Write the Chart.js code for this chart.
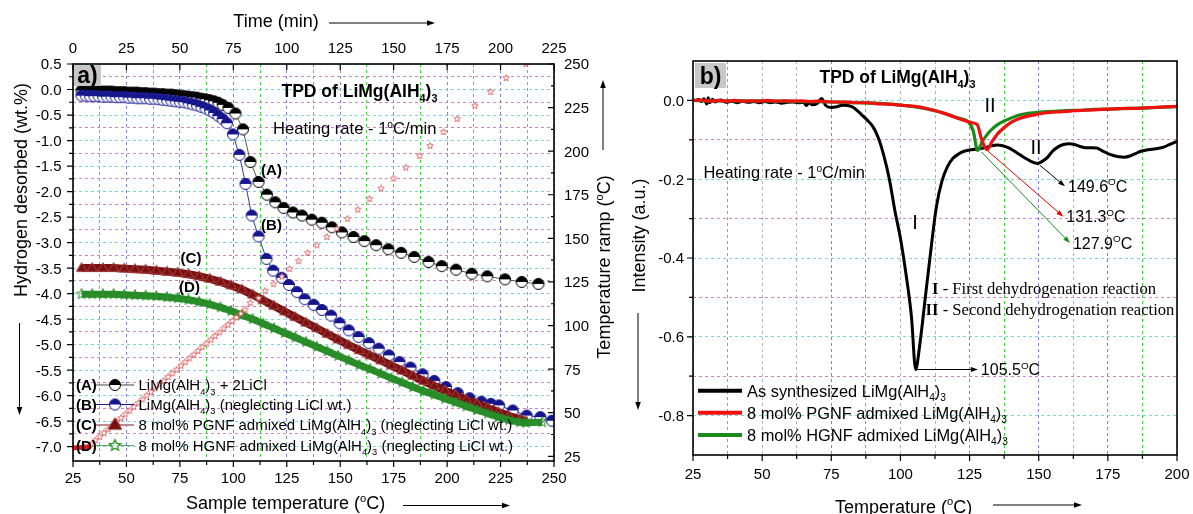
<!DOCTYPE html>
<html>
<head>
<meta charset="utf-8">
<script src="https://cdn.jsdelivr.net/npm/chart.js@4.4.1/dist/chart.umd.min.js"></script>
<style>
  html, body { margin: 0; padding: 0; background: #fff; }
  #wrap { position: relative; width: 1193px; height: 514px; overflow: hidden; background: #fff; }
  canvas { position: absolute; top: 0; }
</style>
</head>
<body>
<div id="wrap">
  <canvas id="tpdA" width="620" height="514" style="left:0"></canvas>
  <canvas id="tpdB" width="573" height="514" style="left:620px"></canvas>
</div>
<script>
// ===== PANEL a) : hydrogen desorbed vs sample temperature =====
const tempTicks = [25, 50, 75, 100, 125, 150, 175, 200, 225, 250];
const timeTicks = [0, 25, 50, 75, 100, 125, 150, 175, 200, 225];
const wtTicks = [0.5, 0, -0.5, -1, -1.5, -2, -2.5, -3, -3.5, -4, -4.5, -5, -5.5, -6, -6.5, -7];
const rampTicks = [25, 50, 75, 100, 125, 150, 175, 200, 225, 250];

const tagsA = ['(A)', '(B)', '(C)', '(D)'];
const namesA = [
  'LiMg(AlH_4)_3 + 2LiCl',
  'LiMg(AlH_4)_3 (neglecting LiCl wt.)',
  '8 mol% PGNF admixed LiMg(AlH_4)_3 (neglecting LiCl wt.)',
  '8 mol% HGNF admixed LiMg(AlH_4)_3 (neglecting LiCl wt.)'
];

// (A) LiMg(AlH4)3 + 2LiCl
const aTemp = [29, 31, 33, 35, 37, 39, 41, 43, 45, 47, 49, 51, 53, 55, 57, 59, 61, 63, 65, 67, 69, 71, 73, 75, 77, 79, 81, 83, 85, 87, 89, 91, 93, 95,
  97.7, 101, 104.5, 108, 111.8, 115.7, 119.6, 123.5, 127.9, 132.1, 136.7, 141.4, 146.1, 150.8, 156.2, 161.3, 166.8, 172.5, 178.5, 184.6, 191.3, 197.5, 204.2, 211.5, 218.8, 227.1, 234.9, 242.7];
const aWt = [-0.02, -0.02, -0.03, -0.03, -0.03, -0.04, -0.04, -0.04, -0.05, -0.05, -0.05, -0.06, -0.06, -0.06, -0.07, -0.07, -0.08, -0.08, -0.09, -0.09, -0.10, -0.10, -0.11, -0.12, -0.13, -0.14, -0.15, -0.16, -0.18, -0.19, -0.21, -0.23, -0.26, -0.30,
  -0.36, -0.47, -0.78, -1.42, -1.81, -2.06, -2.21, -2.32, -2.41, -2.47, -2.55, -2.61, -2.70, -2.80, -2.89, -2.97, -3.05, -3.13, -3.20, -3.28, -3.38, -3.46, -3.53, -3.61, -3.66, -3.72, -3.77, -3.81];

// (B) LiMg(AlH4)3, LiCl weight neglected
const bTemp = [29, 31, 33, 35, 37, 39, 41, 43, 45, 47, 49, 51, 53, 55, 57, 59, 61, 63, 65, 67, 69, 71, 73, 75, 77, 79, 81, 83, 85, 87, 89, 91, 93, 95, 97,
  99.8, 102.8, 105.7, 108.6, 111.8, 115.5, 118.6, 122.6, 126, 129.8, 133.4, 137.6, 141.4, 145.7, 149.7, 154, 158.6, 163.4, 168, 172.8, 177.7, 182.9, 188.5, 194, 199.5, 205, 210.5, 216, 220.5, 224.3, 230.7, 237.2, 243.6, 249];
const bWt = [-0.12, -0.12, -0.13, -0.13, -0.13, -0.14, -0.14, -0.14, -0.15, -0.15, -0.15, -0.16, -0.16, -0.17, -0.17, -0.17, -0.18, -0.18, -0.19, -0.20, -0.21, -0.22, -0.23, -0.24, -0.25, -0.27, -0.29, -0.31, -0.34, -0.37, -0.41, -0.46, -0.52, -0.58, -0.66,
  -0.88, -1.28, -1.85, -2.47, -2.88, -3.32, -3.55, -3.69, -3.83, -3.97, -4.11, -4.22, -4.32, -4.43, -4.58, -4.72, -4.85, -4.97, -5.08, -5.21, -5.34, -5.45, -5.58, -5.71, -5.83, -5.95, -6.05, -6.12, -6.16, -6.19, -6.29, -6.39, -6.42, -6.49];

// (C) 8 mol% PGNF
const cTemp = [29, 34, 39, 44, 49, 54, 59, 64, 69, 74, 79, 84, 89, 94, 99, 104, 109, 114, 119, 124, 129, 134, 139, 144, 149, 154, 159, 164, 169, 174, 179, 184, 189, 194, 199, 204, 209, 214, 219, 224, 229, 234, 237];
const cWt = [-3.50, -3.50, -3.50, -3.50, -3.51, -3.52, -3.53, -3.55, -3.57, -3.59, -3.62, -3.66, -3.71, -3.77, -3.84, -3.92, -4.02, -4.13, -4.24, -4.35, -4.46, -4.57, -4.68, -4.79, -4.90, -5.01, -5.11, -5.21, -5.31, -5.41, -5.51, -5.61, -5.71, -5.81, -5.90, -5.99, -6.08, -6.16, -6.24, -6.32, -6.40, -6.46, -6.50];

// (D) 8 mol% HGNF
const dTemp = [29, 34, 39, 44, 49, 54, 59, 64, 69, 74, 79, 84, 89, 94, 99, 104, 109, 114, 119, 124, 129, 134, 139, 144, 149, 154, 159, 164, 169, 174, 179, 184, 189, 194, 199, 204, 209, 214, 219, 224, 229, 234, 237, 244.5];
const dWt = [-4.01, -4.01, -4.01, -4.01, -4.02, -4.03, -4.04, -4.05, -4.07, -4.09, -4.12, -4.16, -4.21, -4.27, -4.34, -4.42, -4.50, -4.59, -4.68, -4.77, -4.86, -4.95, -5.04, -5.13, -5.22, -5.31, -5.40, -5.48, -5.57, -5.66, -5.74, -5.83, -5.91, -5.98, -6.06, -6.13, -6.21, -6.28, -6.35, -6.42, -6.48, -6.52, -6.53, -6.52];

// temperature ramp (right axis)
const rampStartTemp = [25, 26.5, 28, 29.5, 31, 32.5];
const rampStartVal = [29.8, 29.9, 30.0, 30.1, 30.3, 30.5];
const rampTemp = [33.5, 35.5, 37.5, 39.5, 41.5, 43.5, 45.5, 47.5, 49.5, 51.5, 53.5, 55.5, 57.5, 59.5, 61.5, 63.5, 65.5, 67.5, 69.5, 71.5, 73.5, 75.5, 77.5, 79.5, 81.5, 83.5, 85.5, 87.5, 89.5, 91.5, 93.5, 95.5, 97.5, 99.5, 101.5, 103.5, 105.6,
  107.9, 111.8, 114.9, 118.8, 122.7, 126.3, 130.5, 134.7, 139.1, 143.7, 148.4, 153.4, 158.2, 163.7, 169.1, 174.9, 180.7, 187.1, 192, 198.3, 204.7, 213, 220.3, 227.6, 236.8];
const rampVal = [31.9, 34.1, 36.2, 38.4, 40.5, 42.6, 44.8, 46.9, 49.1, 51.2, 53.3, 55.5, 57.6, 59.8, 61.9, 64.0, 66.2, 68.3, 70.5, 72.6, 74.7, 76.9, 79.0, 81.2, 83.3, 85.4, 87.6, 89.7, 91.9, 94.0, 96.1, 98.3, 100.4, 102.6, 104.7, 106.8, 109.1,
  112.9, 115.7, 119.9, 123.7, 128.1, 132.4, 136.9, 141.7, 146.0, 150.8, 155.5, 161.2, 166.5, 172.6, 178.6, 184.3, 190.6, 197.2, 203, 211, 218.5, 226, 234, 242, 250];

// ===== PANEL b) : TPD intensity vs temperature =====
const tempTicksB = [25, 50, 75, 100, 125, 150, 175, 200];
const intTicks = [0, -0.2, -0.4, -0.6, -0.8];
const namesB = ['As synthesized LiMg(AlH_4)_3', '8 mol% PGNF admixed LiMg(AlH_4)_3', '8 mol% HGNF admixed LiMg(AlH_4)_3'];

const synTemp = [26, 27, 28, 29, 30, 30.5, 31, 32, 33, 35, 37, 39, 41, 43, 45, 47, 49, 51, 53, 55, 57, 59, 61, 63, 65, 66, 67, 68, 70, 71.5, 73, 75, 77, 79, 81,
  83, 85, 86.5, 88, 90, 92, 94, 96, 98, 100, 102, 104, 105.5, 107, 109, 111, 113, 115, 117, 119, 121, 123, 125, 127, 129, 131, 133, 135, 137, 139,
  141, 143, 145, 147, 149.6, 151, 153, 155, 157, 159, 161, 163, 165, 167, 169, 171, 173, 175, 177, 179, 181, 183, 185, 187, 189, 191, 193, 195, 197, 200];
const synInt = [0.000, 0.002, -0.003, 0.004, -0.009, 0.007, -0.006, 0.003, -0.004, 0.001, -0.005, -0.002, -0.006, -0.002, -0.005, -0.003, -0.006, -0.003, -0.006, -0.004,
  -0.007, -0.005, -0.004, -0.006, -0.005, -0.013, -0.005, -0.011, -0.007, 0.005, -0.013, -0.018, -0.016, -0.012, -0.013,
  -0.018, -0.030, -0.040, -0.050, -0.066, -0.095, -0.140, -0.200, -0.280, -0.350, -0.440, -0.550, -0.683, -0.620, -0.500,
  -0.380, -0.270, -0.205, -0.168, -0.147, -0.136, -0.129, -0.126, -0.124, -0.122, -0.119, -0.115, -0.113, -0.115, -0.120,
  -0.128, -0.137, -0.146, -0.154, -0.160, -0.156, -0.146, -0.129, -0.118, -0.112, -0.110, -0.112, -0.117, -0.120, -0.120,
  -0.121, -0.128, -0.135, -0.140, -0.143, -0.144, -0.141, -0.135, -0.129, -0.126, -0.124, -0.122, -0.119, -0.113, -0.104];

const pgnfTemp = [25, 28, 31, 34, 37, 40, 43, 46, 49, 52, 55, 58, 61, 64, 67, 70, 73, 76, 79, 82, 85, 88, 91, 94, 97, 100, 103, 106, 109, 112, 115, 118, 121, 124,
  126, 127.8, 129.3, 131.3, 133, 135, 137, 140, 143, 146, 149, 152, 155, 158, 161, 164, 167, 170, 173, 176, 179, 182, 185, 188, 191, 194, 197, 200];
const pgnfInt = [0.000, 0.001, -0.002, 0.000, -0.002, 0.000, -0.002, -0.001, -0.002, 0.000, -0.002, -0.001, -0.002, -0.001, -0.003, -0.002, -0.003, -0.004, -0.004, -0.005,
  -0.006, -0.006, -0.008, -0.009, -0.010, -0.012, -0.014, -0.016, -0.020, -0.025, -0.031, -0.038, -0.046, -0.053,
  -0.057, -0.062, -0.098, -0.125, -0.106, -0.086, -0.072, -0.056, -0.046, -0.040, -0.036, -0.032, -0.030, -0.029, -0.027, -0.026, -0.025, -0.024, -0.023, -0.022,
  -0.021, -0.020, -0.020, -0.019, -0.018, -0.017, -0.016, -0.015];

const hgnfTemp = [25, 30, 35, 40, 45, 50, 55, 60, 65, 70, 75, 80, 85, 90, 95, 100, 105, 110,
  114, 118, 121, 124.5, 126.3, 127.9, 129.5, 131, 132.5, 135, 137.5, 140, 143, 146, 150, 155, 160, 165, 170, 175, 180, 185, 190, 195, 200];
const hgnfInt = [0.000, -0.001, -0.001, -0.001, -0.001, -0.001, -0.002, -0.002, -0.003, -0.003, -0.004, -0.005, -0.006, -0.007, -0.009, -0.012, -0.016, -0.022,
  -0.029, -0.038, -0.045, -0.054, -0.077, -0.127, -0.106, -0.090, -0.077, -0.062, -0.052, -0.045, -0.037, -0.033, -0.030, -0.028, -0.026, -0.025, -0.023, -0.022,
  -0.021, -0.020, -0.019, -0.017, -0.016];

// peak markers: arrow from (T, I) to (T, I)
const peakTemps = [105.5, 149.6, 131.3, 127.9];
const peakFrom = [[105.4, -0.683], [150.5, -0.165], [131.7, -0.129], [129.3, -0.131]];
const peakTo = [[128, -0.683], [159.5, -0.218], [158.9, -0.295], [161.3, -0.362]];
const peakColors = ['#000', '#000', '#e00000', '#1a8a1a'];

// ===== HELPERS =====
const SANS = '"Liberation Sans", Arial, Helvetica, sans-serif';
const SERIF = '"Liberation Serif", "Times New Roman", serif';
const GRID = { cyan: '#6cdcdc', magenta: '#de78de', green: '#4cd44c', blue: '#8484cc', gray: '#b4b4b4' };

function pairs(xs, ys) {
  return xs.map((x, i) => ({ x: x, y: ys[i] }));
}

function midpoints(arr) {
  const out = [];
  for (let i = 0; i < arr.length - 1; i++) out.push((arr[i] + arr[i + 1]) / 2);
  return out;
}

function tickList(majors) {
  return majors.concat(midpoints(majors)).sort((a, b) => a - b).map(v => ({ value: v }));
}

// text with _x subscripts and ^x superscripts, cy = visual middle
function rich(ctx, str, x, cy, size, opt) {
  opt = opt || {};
  const fam = opt.family || SANS;
  const wt = opt.bold ? 'bold ' : '';
  const parts = [];
  for (let i = 0; i < str.length; i++) {
    const ch = str[i];
    if ((ch === '_' || ch === '^') && i + 1 < str.length) {
      parts.push({ t: str[i + 1], k: ch });
      i++;
    } else if (parts.length && !parts[parts.length - 1].k) {
      parts[parts.length - 1].t += ch;
    } else {
      parts.push({ t: ch, k: null });
    }
  }
  let total = 0;
  parts.forEach(p => {
    p.size = p.k ? size * 0.62 : size;
    ctx.font = wt + p.size + 'px ' + fam;
    p.w = ctx.measureText(p.t).width;
    total += p.w;
  });
  let x0 = x;
  if (opt.align === 'center') x0 = x - total / 2;
  if (opt.align === 'right') x0 = x - total;
  const base = cy + size * 0.36;
  ctx.textAlign = 'left';
  ctx.textBaseline = 'alphabetic';
  ctx.fillStyle = opt.color || '#000';
  parts.forEach(p => {
    ctx.font = wt + p.size + 'px ' + fam;
    let dy = 0;
    if (p.k === '_') dy = size * 0.28;
    if (p.k === '^') dy = -size * 0.42;
    ctx.fillText(p.t, x0, base + dy);
    x0 += p.w;
  });
  return total;
}

function richRot(ctx, str, cx, cy, size) {
  ctx.save();
  ctx.translate(cx, cy);
  ctx.rotate(-Math.PI / 2);
  rich(ctx, str, 0, 0, size, { align: 'center' });
  ctx.restore();
}

function arrow(ctx, x1, y1, x2, y2, color, head) {
  head = head || 7;
  const ang = Math.atan2(y2 - y1, x2 - x1);
  const c = Math.cos(ang), s = Math.sin(ang);
  ctx.save();
  ctx.strokeStyle = color;
  ctx.fillStyle = color;
  ctx.lineWidth = 1;
  ctx.beginPath();
  ctx.moveTo(x1, y1);
  ctx.lineTo(x2 - c * head * 0.8, y2 - s * head * 0.8);
  ctx.stroke();
  ctx.beginPath();
  ctx.moveTo(x2, y2);
  ctx.lineTo(x2 - head * c + head * 0.35 * s, y2 - head * s - head * 0.35 * c);
  ctx.lineTo(x2 - head * c - head * 0.35 * s, y2 - head * s + head * 0.35 * c);
  ctx.closePath();
  ctx.fill();
  ctx.restore();
}

function tickMarks(ctx, a, scale, values, len, side, dir) {
  ctx.beginPath();
  values.forEach(v => {
    const p = scale.getPixelForValue(v);
    if (side === 'bottom') { ctx.moveTo(p, a.bottom); ctx.lineTo(p, a.bottom + dir * len); }
    if (side === 'top') { ctx.moveTo(p, a.top); ctx.lineTo(p, a.top - dir * len); }
    if (side === 'left') { ctx.moveTo(a.left, p); ctx.lineTo(a.left - dir * len, p); }
    if (side === 'right') { ctx.moveTo(a.right, p); ctx.lineTo(a.right + dir * len, p); }
  });
  ctx.stroke();
}

// point symbol images
function halfCircle(fill, r) {
  const s = Math.ceil(r * 2 + 3);
  const c = document.createElement('canvas');
  c.width = c.height = s;
  const g = c.getContext('2d');
  const m = s / 2;
  g.beginPath(); g.arc(m, m, r, 0, Math.PI * 2); g.fillStyle = '#fff'; g.fill();
  g.beginPath(); g.arc(m, m, r, Math.PI, 0); g.closePath(); g.fillStyle = fill; g.fill();
  g.beginPath(); g.arc(m, m, r, 0, Math.PI * 2); g.strokeStyle = fill; g.lineWidth = 1; g.stroke();
  return c;
}

function starImage(outer, stroke, fill, lw) {
  const s = Math.ceil(outer * 2 + 3);
  const c = document.createElement('canvas');
  c.width = c.height = s;
  const g = c.getContext('2d');
  const m = s / 2;
  g.beginPath();
  for (let i = 0; i < 10; i++) {
    const r = i % 2 ? outer * 0.45 : outer;
    const a = -Math.PI / 2 + i * Math.PI / 5;
    g.lineTo(m + r * Math.cos(a), m + r * Math.sin(a));
  }
  g.closePath();
  if (fill) { g.fillStyle = fill; g.fill(); }
  g.strokeStyle = stroke; g.lineWidth = lw; g.stroke();
  return c;
}

function triImage(r, fill, stroke) {
  const s = Math.ceil(r * 2 + 3);
  const c = document.createElement('canvas');
  c.width = c.height = s;
  const g = c.getContext('2d');
  const m = s / 2;
  g.beginPath();
  g.moveTo(m, m - r);
  g.lineTo(m + r * 0.95, m + r * 0.6);
  g.lineTo(m - r * 0.95, m + r * 0.6);
  g.closePath();
  g.fillStyle = fill; g.fill();
  g.strokeStyle = stroke; g.lineWidth = 1; g.stroke();
  return c;
}

const symA = halfCircle('#000', 5.5);
const symB = halfCircle('#14148c', 5.5);
const symC = triImage(5.5, '#7a1010', '#a84848');
const symD = starImage(5.5, '#1e8a1e', null, 1);
const symRamp = starImage(3.4, '#d84a4a', '#fff', 0.8);
const symLegendD = starImage(6, '#1e8a1e', '#fff', 1.2);
const symLegendC = triImage(7, '#7a1010', '#7a1010');

// ===== 1. PANEL a) =====
const decorA = {
  id: 'decorA',
  afterDatasetsDraw(chart) {
    const { ctx, chartArea: a, scales } = chart;
    ctx.save();
    ctx.strokeStyle = '#000';
    ctx.lineWidth = 1.6;
    ctx.strokeRect(a.left, a.top, a.right - a.left, a.bottom - a.top);
    ctx.lineWidth = 1.2;
    tickMarks(ctx, a, scales.x, tempTicks, 6, 'bottom', 1);
    tickMarks(ctx, a, scales.x, midpoints(tempTicks), 4, 'bottom', 1);
    tickMarks(ctx, a, scales.xt, timeTicks, 6, 'top', -1);
    tickMarks(ctx, a, scales.y, wtTicks, 6, 'left', 1);
    tickMarks(ctx, a, scales.y, midpoints(wtTicks), 4, 'left', 1);
    tickMarks(ctx, a, scales.yR, rampTicks, 6, 'right', -1);
    tickMarks(ctx, a, scales.yR, midpoints(rampTicks), 3, 'right', -1);
    ctx.restore();
  },
  afterDraw(chart) {
    const { ctx, chartArea: a, scales } = chart;
    ctx.save();
    // tick labels
    tempTicks.forEach(v => rich(ctx, String(v), scales.x.getPixelForValue(v), 478, 15, { align: 'center' }));
    timeTicks.forEach(v => rich(ctx, String(v), scales.xt.getPixelForValue(v), 48, 15, { align: 'center' }));
    wtTicks.forEach(v => rich(ctx, v.toFixed(1), 61.5, scales.y.getPixelForValue(v), 15, { align: 'right' }));
    rampTicks.forEach(v => rich(ctx, String(v), 564, scales.yR.getPixelForValue(v), 15));

    // axis titles with arrows
    rich(ctx, 'Time (min)', 276, 21, 18, { align: 'center' });
    arrow(ctx, 329, 23, 435, 23, '#000', 8);
    rich(ctx, 'Sample temperature (^oC)', 186, 503, 18);
    arrow(ctx, 403, 505.5, 510, 505.5, '#000', 8);
    richRot(ctx, 'Hydrogen desorbed (wt.%)', 21, 190, 18);
    arrow(ctx, 19.5, 323, 19.5, 415, '#000', 8);
    richRot(ctx, 'Temperature ramp (^oC)', 604, 267, 18);
    arrow(ctx, 603, 150, 603, 80, '#000', 8);

    // panel tag and captions
    ctx.fillStyle = '#c8c8c8';
    ctx.fillRect(a.left + 1, 65, 27, 21);
    rich(ctx, 'a)', a.left + 14.5, 75, 23, { bold: true, align: 'center' });
    rich(ctx, 'TPD of LiMg(AlH_4)_3', 281.5, 91, 17.5, { bold: true });
    rich(ctx, 'Heating rate - 1^oC/min', 273, 128.5, 16.6);
    rich(ctx, '(A)', 271.5, 170, 15, { bold: true, align: 'center' });
    rich(ctx, '(B)', 271.5, 225, 15, { bold: true, align: 'center' });
    rich(ctx, '(C)', 191, 258, 15, { bold: true, align: 'center' });
    rich(ctx, '(D)', 189.5, 287, 15, { bold: true, align: 'center' });

    // legend
    const rowY = [385, 404.5, 425, 445.5];
    const lineCols = ['#444', '#14148c', '#c08a8a', '#5aaa5a'];
    const syms = [symA, symB, symLegendC, symLegendD];
    rowY.forEach((y, i) => {
      rich(ctx, tagsA[i], 76, y, 15, { bold: true });
      ctx.strokeStyle = lineCols[i];
      ctx.lineWidth = i === 2 ? 2 : 1;
      ctx.beginPath(); ctx.moveTo(96, y); ctx.lineTo(134, y); ctx.stroke();
      ctx.drawImage(syms[i], 115 - syms[i].width / 2, y - syms[i].height / 2);
      rich(ctx, namesA[i], 138.5, y, 15);
    });
    ctx.restore();
  }
};

new Chart(document.getElementById('tpdA'), {
  type: 'scatter',
  data: {
    datasets: [
      { label: 'A', data: pairs(aTemp, aWt), xAxisID: 'x', yAxisID: 'y', showLine: true, borderColor: '#555', borderWidth: 1,
        pointStyle: symA, pointRadius: 5.5, order: 5 },
      { label: 'B', data: pairs(bTemp, bWt), xAxisID: 'x', yAxisID: 'y', showLine: true, borderColor: '#3a3a9a', borderWidth: 1,
        pointStyle: symB, pointRadius: 5.5, order: 4 },
      { label: 'C', data: pairs(cTemp, cWt), xAxisID: 'x', yAxisID: 'y', showLine: true, borderColor: '#7a1010', borderWidth: 8,
        pointStyle: symC, pointRadius: 5.5, order: 3 },
      { label: 'D', data: pairs(dTemp, dWt), xAxisID: 'x', yAxisID: 'y', showLine: true, borderColor: '#2e8e2e', borderWidth: 7,
        pointStyle: symD, pointRadius: 5.5, order: 2 },
      { label: 'ramp start', data: pairs(rampStartTemp, rampStartVal), xAxisID: 'x', yAxisID: 'yR', showLine: false,
        pointStyle: 'rect', pointRadius: 2.6, backgroundColor: '#e01818', borderColor: '#e01818', order: 1 },
      { label: 'ramp', data: pairs(rampTemp, rampVal), xAxisID: 'x', yAxisID: 'yR', showLine: false,
        pointStyle: symRamp, pointRadius: 3.5, order: 0 }
    ]
  },
  options: {
    responsive: false,
    animation: false,
    devicePixelRatio: 1,
    events: [],
    layout: { padding: 0 },
    plugins: { legend: { display: false }, tooltip: { enabled: false } },
    scales: {
      x: {
        type: 'linear', position: 'bottom', min: 25, max: 250,
        afterBuildTicks: s => { s.ticks = tickList(tempTicks); },
        afterFit: s => { s.height = 53; },
        ticks: { display: false },
        grid: { drawTicks: false, lineWidth: 1, color: c => tempTicks.includes(c.tick.value) ? GRID.blue : GRID.green },
        border: { display: false, dash: [3, 3] }
      },
      xt: {
        type: 'linear', position: 'top', min: 0, max: 225,
        afterFit: s => { s.height = 64; },
        ticks: { display: false },
        grid: { display: false },
        border: { display: false }
      },
      y: {
        type: 'linear', position: 'left', min: -7.28, max: 0.5,
        afterBuildTicks: s => { s.ticks = tickList(wtTicks); },
        afterFit: s => { s.width = 73; },
        ticks: { display: false },
        grid: { drawTicks: false, lineWidth: 1,
          color: c => Math.abs(c.tick.value * 2 - Math.round(c.tick.value * 2)) < 1e-6 ? GRID.cyan : GRID.magenta },
        border: { display: false, dash: [3, 3] }
      },
      yR: {
        type: 'linear', position: 'right', min: 22.3, max: 250,
        afterFit: s => { s.width = 66; },
        ticks: { display: false },
        grid: { display: false },
        border: { display: false }
      }
    }
  },
  plugins: [decorA]
});

// ===== 2. PANEL b) =====
function vColorB(v) {
  if ((v - 37.5) % 50 === 0) return GRID.green;
  if ([75, 125, 150, 175].includes(v)) return GRID.blue;
  return GRID.gray;
}

const decorB = {
  id: 'decorB',
  afterDatasetsDraw(chart) {
    const { ctx, chartArea: a, scales } = chart;
    ctx.save();
    ctx.strokeStyle = '#000';
    ctx.lineWidth = 1.6;
    ctx.strokeRect(a.left, a.top, a.right - a.left, a.bottom - a.top);
    ctx.lineWidth = 1.2;
    tickMarks(ctx, a, scales.x, tempTicksB, 6, 'bottom', 1);
    tickMarks(ctx, a, scales.x, midpoints(tempTicksB), 4, 'bottom', 1);
    tickMarks(ctx, a, scales.y, intTicks, 6, 'left', 1);
    tickMarks(ctx, a, scales.y, midpoints(intTicks), 4, 'left', 1);
    ctx.restore();
  },
  afterDraw(chart) {
    const { ctx, chartArea: a, scales } = chart;
    const px = v => scales.x.getPixelForValue(v);
    const py = v => scales.y.getPixelForValue(v);
    ctx.save();
    tempTicksB.forEach(v => rich(ctx, String(v), px(v), 474, 15, { align: 'center' }));
    intTicks.forEach(v => rich(ctx, v.toFixed(1), 64, py(v), 15, { align: 'right' }));

    rich(ctx, 'Temperature (^oC)', 215, 506.5, 18);
    arrow(ctx, 373, 505, 462, 505, '#000', 8);
    richRot(ctx, 'Intensity (a.u.)', 19, 235.5, 18);
    arrow(ctx, 18, 313, 18, 410, '#000', 8);

    ctx.fillStyle = '#c8c8c8';
    ctx.fillRect(a.left + 2, 63, 31, 25);
    rich(ctx, 'b)', a.left + 17.5, 75.5, 23, { bold: true, align: 'center' });
    rich(ctx, 'TPD of LiMg(AlH_4)_3', 199.5, 77, 17.5, { bold: true });
    rich(ctx, 'Heating rate - 1^oC/min', 83.5, 172.5, 16.4);
    rich(ctx, 'II', 370, 105, 20, { align: 'center' });
    rich(ctx, 'II', 416, 147, 20, { align: 'center' });
    rich(ctx, 'I', 295, 222, 20, { align: 'center' });

    // peak arrows and labels
    peakTemps.forEach((t, i) => {
      const x1 = px(peakFrom[i][0]), y1 = py(peakFrom[i][1]);
      const x2 = px(peakTo[i][0]), y2 = py(peakTo[i][1]);
      arrow(ctx, x1, y1, x2, y2, peakColors[i], 7);
      rich(ctx, t.toFixed(1) + '^OC', x2 + 3, y2, 16);
    });

    // reaction key (serif)
    rich(ctx, 'I', 318.5, 288, 16.6, { family: SERIF, bold: true, align: 'right' });
    rich(ctx, ' - First dehydrogenation reaction', 318.5, 288, 16.6, { family: SERIF });
    rich(ctx, 'II', 318.5, 309, 16.6, { family: SERIF, bold: true, align: 'right' });
    rich(ctx, ' - Second dehydrogenation reaction', 318.5, 309, 16.6, { family: SERIF });

    // legend
    const rowY = [390.7, 412.7, 435];
    const cols = ['#000', '#f01010', '#1a8a1a'];
    rowY.forEach((y, i) => {
      ctx.strokeStyle = cols[i];
      ctx.lineWidth = 4;
      ctx.beginPath(); ctx.moveTo(78, y); ctx.lineTo(122, y); ctx.stroke();
      rich(ctx, namesB[i], 127, y, 16.4);
    });
    ctx.restore();
  }
};

new Chart(document.getElementById('tpdB'), {
  type: 'scatter',
  data: {
    datasets: [
      { label: 'As synthesized', data: pairs(synTemp, synInt), showLine: true, borderColor: '#000', borderWidth: 3,
        pointRadius: 0, cubicInterpolationMode: 'monotone', borderJoinStyle: 'round', order: 2 },
      { label: 'HGNF', data: pairs(hgnfTemp, hgnfInt), showLine: true, borderColor: '#1a8a1a', borderWidth: 3.2,
        pointRadius: 0, cubicInterpolationMode: 'monotone', borderJoinStyle: 'round', order: 1 },
      { label: 'PGNF', data: pairs(pgnfTemp, pgnfInt), showLine: true, borderColor: '#f01010', borderWidth: 3.2,
        pointRadius: 0, cubicInterpolationMode: 'monotone', borderJoinStyle: 'round', order: 0 }
    ]
  },
  options: {
    responsive: false,
    animation: false,
    devicePixelRatio: 1,
    events: [],
    layout: { padding: { top: 61, right: 16, left: 0, bottom: 0 } },
    plugins: { legend: { display: false }, tooltip: { enabled: false } },
    scales: {
      x: {
        type: 'linear', position: 'bottom', min: 25, max: 200,
        afterBuildTicks: s => { s.ticks = tickList(tempTicksB); },
        afterFit: s => { s.height = 59; },
        ticks: { display: false },
        grid: { drawTicks: false, lineWidth: 1, color: c => vColorB(c.tick.value) },
        border: { display: false, dash: [3, 3] }
      },
      y: {
        type: 'linear', position: 'left', min: -0.9, max: 0.1,
        afterBuildTicks: s => { s.ticks = tickList(intTicks); },
        afterFit: s => { s.width = 73; },
        ticks: { display: false },
        grid: { drawTicks: false, lineWidth: 1,
          color: c => Math.round(Math.abs(c.tick.value) * 10) % 2 === 0 ? GRID.cyan : GRID.magenta },
        border: { display: false, dash: [3, 3] }
      }
    }
  },
  plugins: [decorB]
});
</script>
</body>
</html>
